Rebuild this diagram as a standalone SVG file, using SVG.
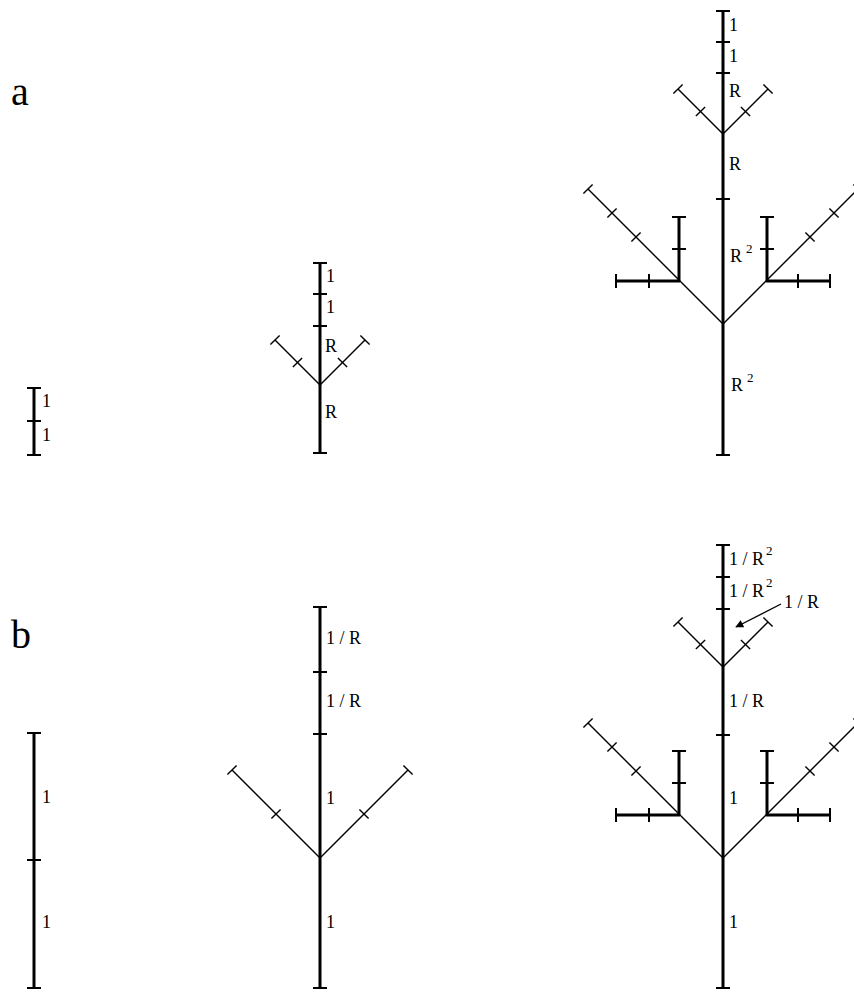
<svg xmlns="http://www.w3.org/2000/svg" width="854" height="992" viewBox="0 0 854 992">
<style>
.thick{stroke:#000;stroke-width:3;fill:none}
.thin{stroke:#000;stroke-width:1.4;fill:none}
.tk{stroke:#000;stroke-width:2;fill:none}
text{font-family:"Liberation Serif","Times New Roman",serif;font-size:18px;fill:#000}
.sup{font-size:13px}
.panel{font-size:40px}
</style>
<defs>
<marker id="ah" viewBox="0 0 10 10" refX="9" refY="5" markerWidth="10" markerHeight="8" markerUnits="userSpaceOnUse" orient="auto">
<path d="M0,0 L10,5 L0,10 z" fill="#000"/>
</marker>
</defs>
<rect width="854" height="992" fill="#fff"/>
<text class="panel" x="11" y="105">a</text>
<text class="panel" x="11" y="648">b</text>

<g id="connectors">
<line class="thin" x1="781" y1="604" x2="736" y2="627" marker-end="url(#ah)"/>
</g>

<!-- a: left -->
<g id="a-seed">
<line class="thick" x1="34" y1="388" x2="34" y2="455"/>
<line class="tk" x1="27" y1="388" x2="41" y2="388"/>
<line class="tk" x1="27" y1="421" x2="41" y2="421"/>
<line class="tk" x1="27" y1="455" x2="41" y2="455"/>
<text x="42" y="407">1</text>
<text x="42" y="441">1</text>
</g>

<!-- a: middle -->
<g id="a-tree1">
<line class="thick" x1="320" y1="263" x2="320" y2="453"/>
<line class="tk" x1="313" y1="263" x2="327" y2="263"/>
<line class="tk" x1="313" y1="294" x2="327" y2="294"/>
<line class="tk" x1="313" y1="326" x2="327" y2="326"/>
<line class="tk" x1="313" y1="453" x2="327" y2="453"/>
<line class="thin" x1="320" y1="385" x2="275" y2="340"/>
<line class="thin" x1="292.9" y1="367.1" x2="302.1" y2="357.9"/>
<line class="thin" x1="270.4" y1="344.6" x2="279.6" y2="335.4"/>
<line class="thin" x1="320" y1="385" x2="365" y2="340"/>
<line class="thin" x1="337.9" y1="357.9" x2="347.1" y2="367.1"/>
<line class="thin" x1="360.4" y1="335.4" x2="369.6" y2="344.6"/>
<text x="326" y="282">1</text>
<text x="326" y="313">1</text>
<text x="325" y="352">R</text>
<text x="325" y="418">R</text>
</g>

<!-- a: right -->
<g id="a-tree2">
<line class="thick" x1="723" y1="11" x2="723" y2="455"/>
<line class="tk" x1="716" y1="11" x2="730" y2="11"/>
<line class="tk" x1="716" y1="42" x2="730" y2="42"/>
<line class="tk" x1="716" y1="73" x2="730" y2="73"/>
<line class="tk" x1="716" y1="199" x2="730" y2="199"/>
<line class="tk" x1="716" y1="455" x2="730" y2="455"/>
<!-- small fork -->
<line class="thin" x1="723" y1="134" x2="678" y2="89"/>
<line class="thin" x1="695.9" y1="116.1" x2="705.1" y2="106.9"/>
<line class="thin" x1="673.4" y1="93.6" x2="682.6" y2="84.4"/>
<line class="thin" x1="723" y1="134" x2="768" y2="89"/>
<line class="thin" x1="740.9" y1="106.9" x2="750.1" y2="116.1"/>
<line class="thin" x1="763.4" y1="84.4" x2="772.6" y2="93.6"/>
<!-- left big branch -->
<line class="thin" x1="723" y1="324" x2="588" y2="189"/>
<line class="thin" x1="631.4" y1="241.6" x2="640.6" y2="232.4"/>
<line class="thin" x1="607.4" y1="217.6" x2="616.6" y2="208.4"/>
<line class="thin" x1="583.4" y1="193.6" x2="592.6" y2="184.4"/>
<line class="thick" x1="679" y1="281" x2="679" y2="217"/>
<line class="tk" x1="672" y1="217" x2="686" y2="217"/>
<line class="tk" x1="672" y1="249" x2="686" y2="249"/>
<line class="thick" x1="680" y1="281" x2="616" y2="281"/>
<line class="tk" x1="616" y1="274" x2="616" y2="288"/>
<line class="tk" x1="649" y1="274" x2="649" y2="288"/>
<!-- right big branch -->
<line class="thin" x1="723" y1="324" x2="858" y2="189"/>
<line class="thin" x1="805.4" y1="232.4" x2="814.6" y2="241.6"/>
<line class="thin" x1="829.4" y1="208.4" x2="838.6" y2="217.6"/>
<line class="thin" x1="853.4" y1="184.4" x2="862.6" y2="193.6"/>
<line class="thick" x1="767" y1="281" x2="767" y2="217"/>
<line class="tk" x1="760" y1="217" x2="774" y2="217"/>
<line class="tk" x1="760" y1="249" x2="774" y2="249"/>
<line class="thick" x1="766" y1="281" x2="830" y2="281"/>
<line class="tk" x1="830" y1="274" x2="830" y2="288"/>
<line class="tk" x1="798" y1="274" x2="798" y2="288"/>
<text x="729" y="31">1</text>
<text x="729" y="62">1</text>
<text x="729" y="97">R</text>
<text x="729" y="170">R</text>
<text x="730" y="262">R</text>
<text class="sup" x="746" y="253">2</text>
<text x="731" y="391">R</text>
<text class="sup" x="747" y="382">2</text>
</g>

<!-- b: left -->
<g id="b-seed">
<line class="thick" x1="34" y1="733" x2="34" y2="988"/>
<line class="tk" x1="27" y1="733" x2="41" y2="733"/>
<line class="tk" x1="27" y1="860" x2="41" y2="860"/>
<line class="tk" x1="27" y1="988" x2="41" y2="988"/>
<text x="42" y="803">1</text>
<text x="42" y="928">1</text>
</g>

<!-- b: middle -->
<g id="b-tree1">
<line class="thick" x1="320" y1="607" x2="320" y2="988"/>
<line class="tk" x1="313" y1="607" x2="327" y2="607"/>
<line class="tk" x1="313" y1="672" x2="327" y2="672"/>
<line class="tk" x1="313" y1="734" x2="327" y2="734"/>
<line class="tk" x1="313" y1="988" x2="327" y2="988"/>
<line class="thin" x1="320" y1="858" x2="232" y2="770"/>
<line class="thin" x1="271.4" y1="818.6" x2="280.6" y2="809.4"/>
<line class="thin" x1="227.4" y1="774.6" x2="236.6" y2="765.4"/>
<line class="thin" x1="320" y1="858" x2="408" y2="770"/>
<line class="thin" x1="359.4" y1="809.4" x2="368.6" y2="818.6"/>
<line class="thin" x1="403.4" y1="765.4" x2="412.6" y2="774.6"/>
<text x="326" y="644">1 / R</text>
<text x="326" y="707">1 / R</text>
<text x="326" y="804">1</text>
<text x="326" y="928">1</text>
</g>

<!-- b: right -->
<g id="b-tree2">
<line class="thick" x1="723" y1="545" x2="723" y2="988"/>
<line class="tk" x1="716" y1="545" x2="730" y2="545"/>
<line class="tk" x1="716" y1="577" x2="730" y2="577"/>
<line class="tk" x1="716" y1="609" x2="730" y2="609"/>
<line class="tk" x1="716" y1="735" x2="730" y2="735"/>
<line class="tk" x1="716" y1="988" x2="730" y2="988"/>
<line class="thin" x1="723" y1="667" x2="678" y2="622"/>
<line class="thin" x1="695.9" y1="649.1" x2="705.1" y2="639.9"/>
<line class="thin" x1="673.4" y1="626.6" x2="682.6" y2="617.4"/>
<line class="thin" x1="723" y1="667" x2="768" y2="622"/>
<line class="thin" x1="740.9" y1="639.9" x2="750.1" y2="649.1"/>
<line class="thin" x1="763.4" y1="617.4" x2="772.6" y2="626.6"/>
<line class="thin" x1="723" y1="858" x2="588" y2="723"/>
<line class="thin" x1="631.4" y1="775.6" x2="640.6" y2="766.4"/>
<line class="thin" x1="607.4" y1="751.6" x2="616.6" y2="742.4"/>
<line class="thin" x1="583.4" y1="727.6" x2="592.6" y2="718.4"/>
<line class="thick" x1="679" y1="815" x2="679" y2="751"/>
<line class="tk" x1="672" y1="751" x2="686" y2="751"/>
<line class="tk" x1="672" y1="783" x2="686" y2="783"/>
<line class="thick" x1="680" y1="815" x2="616" y2="815"/>
<line class="tk" x1="616" y1="808" x2="616" y2="822"/>
<line class="tk" x1="649" y1="808" x2="649" y2="822"/>
<line class="thin" x1="723" y1="858" x2="858" y2="723"/>
<line class="thin" x1="805.4" y1="766.4" x2="814.6" y2="775.6"/>
<line class="thin" x1="829.4" y1="742.4" x2="838.6" y2="751.6"/>
<line class="thin" x1="853.4" y1="718.4" x2="862.6" y2="727.6"/>
<line class="thick" x1="767" y1="815" x2="767" y2="751"/>
<line class="tk" x1="760" y1="751" x2="774" y2="751"/>
<line class="tk" x1="760" y1="783" x2="774" y2="783"/>
<line class="thick" x1="766" y1="815" x2="830" y2="815"/>
<line class="tk" x1="830" y1="808" x2="830" y2="822"/>
<line class="tk" x1="798" y1="808" x2="798" y2="822"/>
<text x="729" y="565">1 / R</text>
<text class="sup" x="766" y="555">2</text>
<text x="729" y="597">1 / R</text>
<text class="sup" x="766" y="587">2</text>
<text x="784" y="608">1 / R</text>
<text x="729" y="707">1 / R</text>
<text x="729" y="804">1</text>
<text x="729" y="928">1</text>
</g>
</svg>
